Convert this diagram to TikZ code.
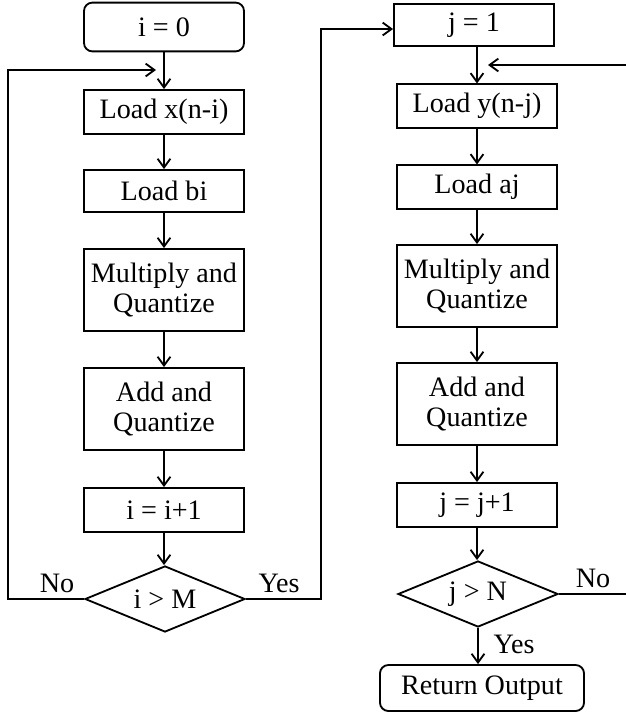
\documentclass[tikz,border=0pt]{standalone}
\usepackage{fontspec}
\setmainfont{Liberation Serif}
\usepackage{tikz}
\usetikzlibrary{arrows.meta}
\usetikzlibrary{shapes.geometric}
\tikzset{>={Straight Barb[length=2.2mm,width=3.2mm]}}
\tikzset{
    box/.style={draw, rectangle, line width=1.3pt, minimum width=4cm, minimum height=1.1cm, align=center, inner sep=1pt},
    rbox/.style={box, rounded corners=6pt},
    decision/.style={draw, diamond, line width=1.3pt, minimum width=4cm, minimum height=1.65cm, aspect=2.4, inner sep=0pt},
    lbl/.style={inner sep=0pt},
    flow/.style={->, line width=1.3pt}
}

\begin{document}
\begin{tikzpicture}[x=0.025cm, y=-0.025cm, font=\fontsize{20}{22}\selectfont]
    \useasboundingbox (0,0) rectangle (626,712);

    % left column: i loop
    \node[rbox, minimum height=1.22cm] (initi) at (164,27) {i = 0};
    \node[box] (loadx) at (164,112) {Load x(n-i)};
    \node[box, minimum height=1.05cm] (loadb) at (164,191) {Load bi};
    \node[box, minimum height=2.05cm] (mulqi) at (164,290) {Multiply and\\Quantize};
    \node[box, minimum height=2.05cm] (addqi) at (164,409) {Add and\\Quantize};
    \node[box] (inci) at (164,510) {i = i+1};
    \node[decision] (condi) at (165,599) {i > M};

    % right column: j loop
    \node[box, minimum height=1.05cm] (initj) at (474,25) {j = 1};
    \node[box, minimum height=1.08cm] (loady) at (477,106) {Load y(n-j)};
    \node[box, minimum height=1.08cm] (loada) at (477,187) {Load aj};
    \node[box, minimum height=2.05cm] (mulqj) at (477,286) {Multiply and\\Quantize};
    \node[box, minimum height=2.05cm] (addqj) at (477,404) {Add and\\Quantize};
    \node[box] (incj) at (477,505) {j = j+1};
    \node[decision] (condj) at (478,594) {j > N};
    \node[rbox, minimum width=5.1cm, minimum height=1.15cm] (ret) at (482,688) {Return Output};

    % labels
    \node[lbl] (noi) at (57,583) {No};
    \node[lbl] (yesi) at (279,583) {Yes};
    \node[lbl] (noj) at (593,578) {No};
    \node[lbl] (yesj) at (514,644) {Yes};

    % merge points and free ends
    \coordinate (mergei) at (156,70);
    \coordinate (mergej) at (488,65);
    \coordinate (edgein) at (626,65);
    \coordinate (edgeout) at (626,594);

    % straight flow
    \draw[flow] (initi) -- (loadx);
    \draw[flow] (loadx) -- (loadb);
    \draw[flow] (loadb) -- (mulqi);
    \draw[flow] (mulqi) -- (addqi);
    \draw[flow] (addqi) -- (inci);
    \draw[flow] (inci.south) -- (inci.south |- condi.north);

    \draw[flow] (initj.south -| loady.north) -- (loady.north);
    \draw[flow] (loady) -- (loada);
    \draw[flow] (loada) -- (mulqj);
    \draw[flow] (mulqj) -- (addqj);
    \draw[flow] (addqj) -- (incj);
    \draw[flow] (incj.south) -- (incj.south |- condj.north);
    \draw[flow] (condj.south) -- (condj.south |- ret.north);

    % loops
    \draw[flow] (condi.west) -- ++(-76,0) |- (mergei);
    \draw[flow] (condi.east) -- ++(75,0) |- ([yshift=-0.1cm]initj.west);
    \draw[flow] (edgein) -- (mergej);
    \draw[line width=1.3pt] (condj.east) -- (edgeout);
\end{tikzpicture}
\end{document}
